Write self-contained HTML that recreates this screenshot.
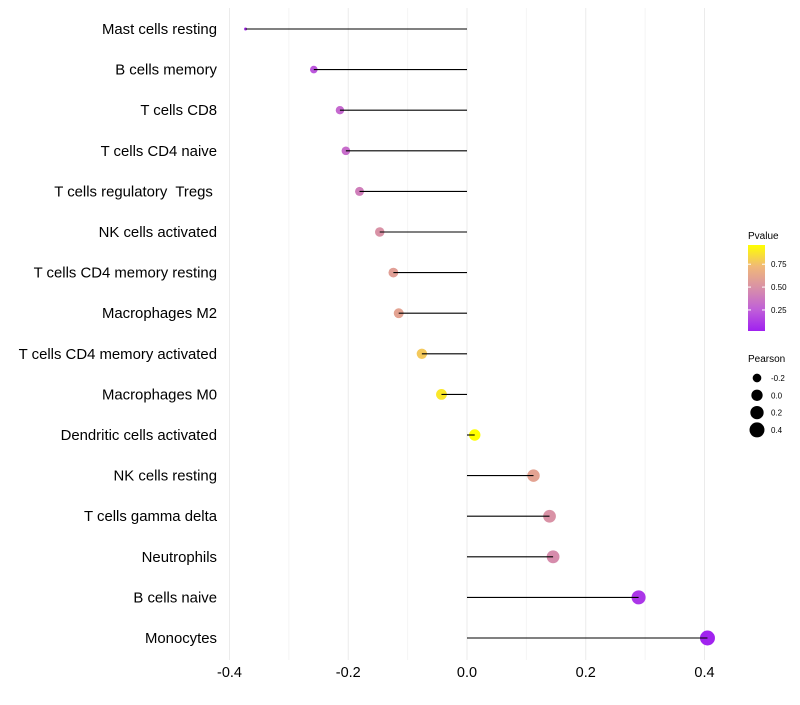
<!DOCTYPE html>
<html><head><meta charset="utf-8"><style>
body{margin:0;background:#fff;font-family:"Liberation Sans",sans-serif}
</style></head><body>
<svg id="c" width="800" height="700" xmlns="http://www.w3.org/2000/svg"></svg>
<script>
const categories=["Mast cells resting","B cells memory","T cells CD8","T cells CD4 naive","T cells regulatory  Tregs ","NK cells activated","T cells CD4 memory resting","Macrophages M2","T cells CD4 memory activated","Macrophages M0","Dendritic cells activated","NK cells resting","T cells gamma delta","Neutrophils","B cells naive","Monocytes"];
const pearson=[-0.373,-0.258,-0.214,-0.204,-0.181,-0.147,-0.124,-0.115,-0.076,-0.043,0.013,0.112,0.139,0.145,0.289,0.405];
const pvalue=[0.06,0.22,0.3,0.32,0.4,0.5,0.58,0.6,0.78,0.88,0.96,0.6,0.5,0.47,0.1,0.03];
const xTicks=[-0.4,-0.2,0,0.2,0.4];
const xTickLabels=["-0.4","-0.2","0.0","0.2","0.4"];
const pTicks=[0.25,0.5,0.75];
const sizeTicks=[-0.2,0,0.2,0.4];
const NS="http://www.w3.org/2000/svg";
const svg=document.getElementById('c');
const stops=[[160,32,240],[192,96,216],[216,144,168],[240,184,120],[255,255,0]];
function X(v){return 467+v*593.75;}
function Y(i){return 29+i*40.6;}
function R(v){return 1.5+6*Math.sqrt(Math.max(0,(v+0.373)/0.778));}
function col(p){let t=Math.min(1,Math.max(0,(p-0.02)/0.94))*4;const k=Math.min(3,Math.floor(t));const f=t-k;const a=stops[k],b=stops[k+1];return `rgb(${a.map((c,i)=>Math.round(c+(b[i]-c)*f)).join(',')})`;}
function el(t,at,parent){const e=document.createElementNS(NS,t);for(const k in at)e.setAttribute(k,at[k]);(parent||svg).appendChild(e);return e;}
for(let v=-0.4;v<=0.41;v+=0.1){
  const g=el('line',{x1:X(v),x2:X(v),y1:8,y2:660,stroke:Math.abs(Math.round(v*10))%2===0?'#ebebeb':'#f4f4f4','stroke-width':1});
  
  
}
xTicks.forEach((v,i)=>{
  const t=el('text',{x:X(v),y:677,'text-anchor':'middle','font-size':14.5,fill:'#000'});
  t.textContent=xTickLabels[i];
  
  
});
categories.forEach((c,i)=>{
  const y=Y(i);
  const t=el('text',{x:217,y:y+5,'text-anchor':'end','font-size':14.9,fill:'#000'});
  t.setAttribute('style','white-space:pre');
  t.textContent=c;
  
  
  const d=el('circle',{cx:X(pearson[i]),cy:y,r:R(pearson[i]),fill:col(pvalue[i])});
  
  
  const l=el('line',{x1:X(0),x2:X(pearson[i]),y1:y,y2:y,stroke:'#000','stroke-width':1.1});
  
  
});
const lt=el('text',{x:748,y:239,'font-size':10});lt.textContent='Pvalue';


const defs=el('defs',{});
const lg=el('linearGradient',{id:'g',x1:0,y1:1,x2:0,y2:0},defs);
stops.forEach((s,i)=>el('stop',{offset:i/4,'stop-color':`rgb(${s.join(',')})`},lg));
const cb=el('rect',{x:748,y:245,width:17,height:86,fill:'url(#g)'});


pTicks.forEach(p=>{const y=331-(p-0.02)/0.94*86;
  el('line',{x1:748,x2:751,y1:y,y2:y,stroke:'#fff'});el('line',{x1:762,x2:765,y1:y,y2:y,stroke:'#fff'});
  const t=el('text',{x:771,y:y+3,'font-size':8});t.textContent=p.toFixed(2);
  
  });
const st=el('text',{x:748,y:362,'font-size':10});st.textContent='Pearson';


sizeTicks.forEach((v,i)=>{const y=378+i*17.3;
  const c=el('circle',{cx:757,cy:y,r:R(v),fill:'#000'});
  
  
  const t=el('text',{x:771,y:y+3,'font-size':8});t.textContent=v.toFixed(1);
  
  });
</script>
</body></html>
